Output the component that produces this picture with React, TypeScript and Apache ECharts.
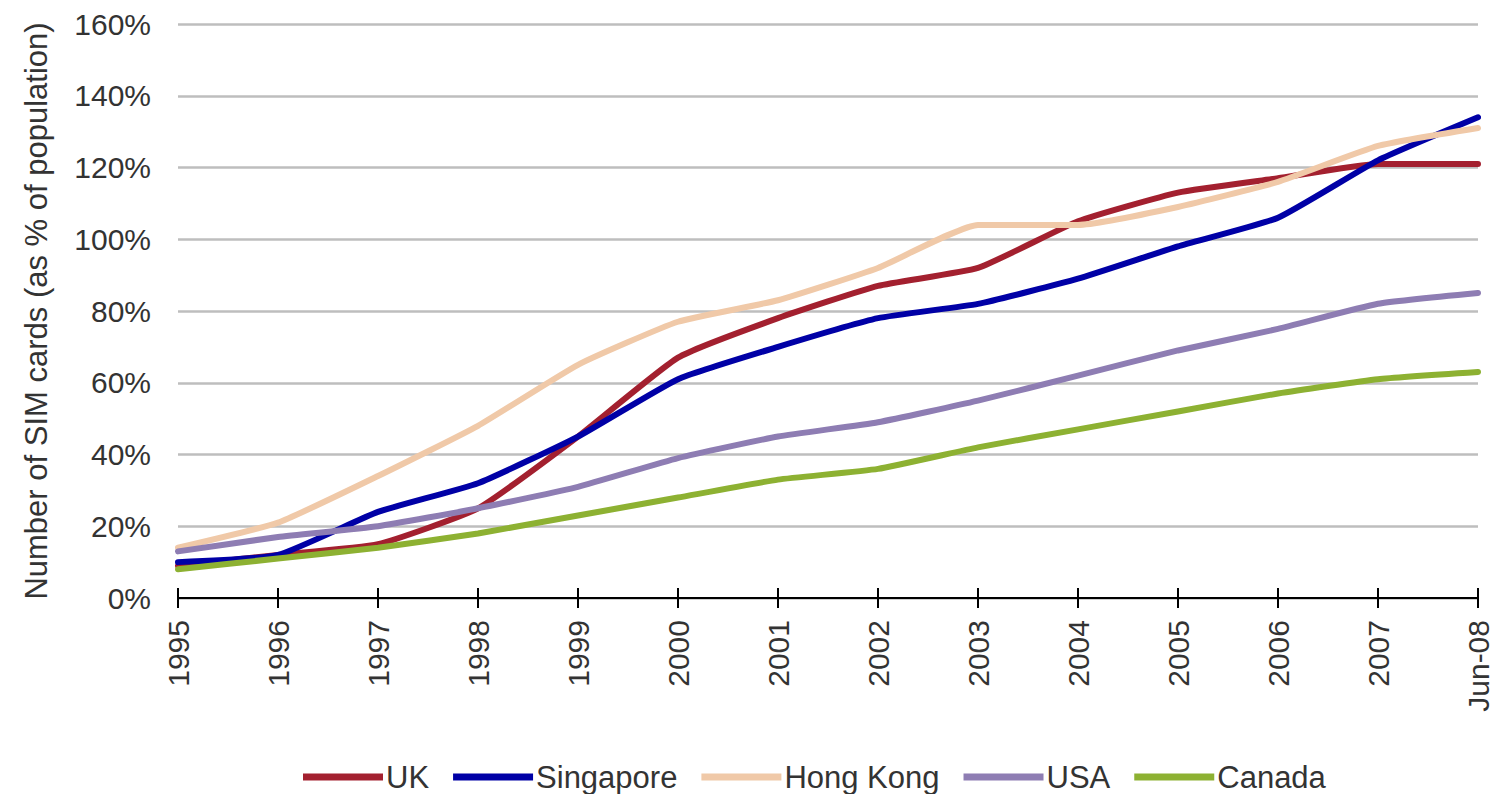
import React, { useEffect, useRef } from "react";
import * as echarts from "echarts";

const years = ["1995", "1996", "1997", "1998", "1999", "2000", "2001", "2002", "2003", "2004", "2005", "2006", "2007", "Jun-08"];

const uk = [9, 12, 15, 25, 45, 67, 78, 87, 92, 105, 113, 117, 121, 121];
const singapore = [10, 12, 24, 32, 45, 61, 70, 78, 82, 89, 98, 106, 122, 134];
const hongKong = [14, 21, 34, 48, 65, 77, 83, 92, 104, 104, 109, 116, 126, 131];
const usa = [13, 17, 20, 25, 31, 39, 45, 49, 55, 62, 69, 75, 82, 85];
const canada = [8, 11, 14, 18, 23, 28, 33, 36, 42, 47, 52, 57, 61, 63];

const seriesNames = ["UK", "Singapore", "Hong Kong", "USA", "Canada"];
const seriesColors = ["#A3202F", "#0000A6", "#F0C9A8", "#8E7DB3", "#8DB132"];
const seriesValues = [uk, singapore, hongKong, usa, canada];

const FONT = "'Liberation Sans', Arial, sans-serif";
const TEXT = "#333333";

export default function App() {
  const ref = useRef<HTMLDivElement>(null);

  useEffect(() => {
    if (!ref.current) return;
    const chart = echarts.init(ref.current, undefined, { renderer: "svg" });
    chart.setOption({
      animation: false,
      backgroundColor: "#ffffff",
      grid: { left: 178, right: 14, top: 24, bottom: 196, containLabel: false },
      legend: {
        top: 756,
        left: 298,
        itemWidth: 80,
        itemHeight: 7,
        itemGap: 24,
        icon: "rect",
        textStyle: { fontFamily: FONT, fontSize: 31, lineHeight: 32, color: TEXT, padding: [0, 0, 0, -2] },
        data: seriesNames,
      },
      xAxis: [
        {
          type: "category",
          data: years,
          boundaryGap: false,
          axisLine: { lineStyle: { color: "#000", width: 2 } },
          axisTick: { show: true, length: 10, alignWithLabel: true, lineStyle: { color: "#000", width: 2 } },
          axisLabel: {
            rotate: 90,
            margin: 22,
            fontFamily: FONT,
            fontSize: 30,
            color: TEXT,
            interval: 0,
          },
          splitLine: { show: false },
        },
        {
          type: "category",
          data: years,
          boundaryGap: false,
          position: "bottom",
          axisLine: { show: false },
          axisTick: { show: true, inside: true, length: 10, lineStyle: { color: "#000", width: 2 } },
          axisLabel: { show: false },
          splitLine: { show: false },
        },
      ],
      yAxis: {
        type: "value",
        min: 0,
        max: 160,
        interval: 20,
        name: "Number of SIM cards (as % of population)",
        nameLocation: "middle",
        nameGap: 126,
        nameRotate: 90,
        nameTextStyle: { fontFamily: FONT, fontSize: 31, color: TEXT },
        axisLine: { show: false },
        axisTick: { show: false },
        axisLabel: {
          formatter: "{value}%",
          fontFamily: FONT,
          fontSize: 30,
          color: TEXT,
          margin: 27,
        },
        splitLine: { show: true, lineStyle: { color: "#BEBEBE", width: 2.5 } },
      },
      series: seriesNames.map((name, i) => ({
        name,
        type: "line",
        xAxisIndex: 0,
        data: seriesValues[i],
        smooth: 0.15,
        symbol: "none",
        lineStyle: { color: seriesColors[i], width: 6, join: "round", cap: "round" },
        itemStyle: { color: seriesColors[i] },
      })),
    });
    return () => chart.dispose();
  }, []);

  return <div ref={ref} style={{ width: 1493, height: 794, position: "absolute", left: 0, top: 0 }} />;
}
